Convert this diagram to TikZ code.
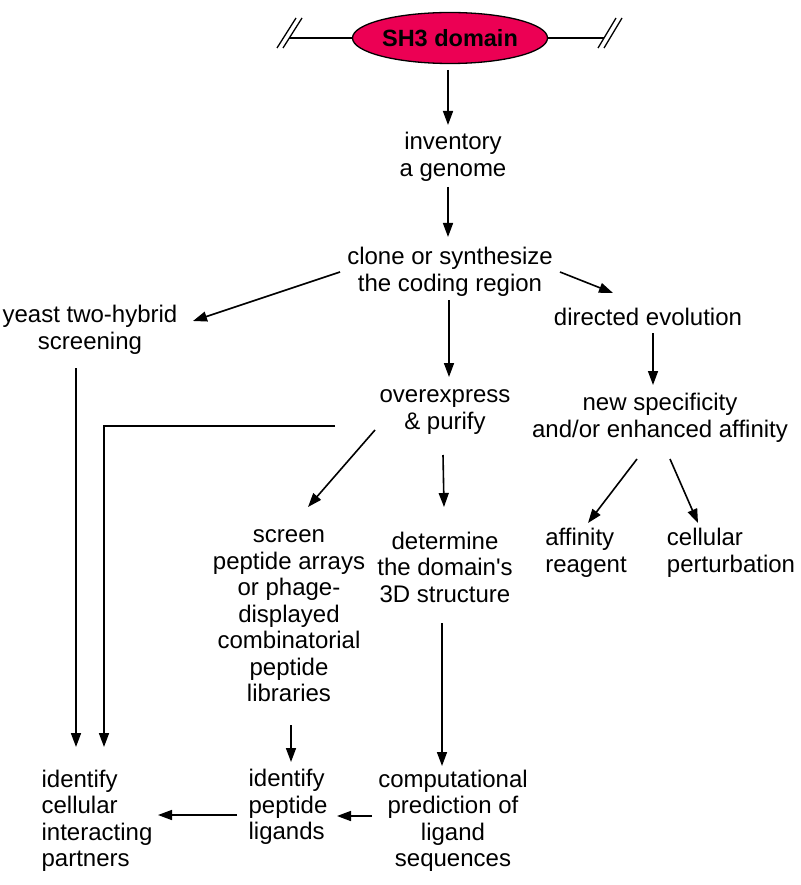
\documentclass[tikz,border=0pt]{standalone}
\usepackage{fontspec}
\setmainfont{Liberation Sans}
\usetikzlibrary{shapes.geometric, calc, arrows.meta}
\definecolor{domainred}{RGB}{236,0,84}

\begin{document}
\begin{tikzpicture}[x=1pt, y=-1pt,
    txt/.style={align=center, inner sep=0pt, font=\fontsize{24}{26.5}\selectfont},
    txtl/.style={txt, align=left},
    flow/.style={-{Triangle[length=14pt,width=10pt]}, line width=1.6pt},
    cut/.style={line width=1.3pt}]
  \useasboundingbox (0,0) rectangle (800,885);

  % domain on the chain
  \node[ellipse, draw, line width=1.3pt, fill=domainred, minimum width=195pt,
        minimum height=51pt, inner sep=0pt, font=\fontsize{23.5}{26}\selectfont\bfseries]
    (sh3) at (450,38) {SH3 domain};
  \coordinate (lcut) at (289,38);
  \coordinate (rcut) at (604,38);
  \draw[cut] (lcut) -- (sh3.west);
  \draw[cut] (sh3.east) -- (rcut);
  \draw[cut] (277,48) -- (296,18) (283,48) -- (302,18);
  \draw[cut] (598,48) -- (616,18) (604,48) -- (622,18);

  % steps
  \node[txt] (inv) at (453,157) {inventory\\a genome};
  \node[txt] (clone) at (450,272) {clone or synthesize\\the coding region};
  \node[txt] (yeast) at (90,330) {yeast two-hybrid\\screening};
  \node[txt] (dir) at (648,317) {directed evolution};
  \node[txt] (over) at (445,412) {overexpress\\\& purify};
  \node[txt] (spec) at (660,418) {new specificity\\and/or enhanced affinity};
  \node[txt] (screen) at (289,616) {screen\\peptide arrays\\or phage-\\displayed\\combinatorial\\peptide\\libraries};
  \node[txt] (det) at (445,567) {determine\\the domain\textquotesingle s\\3D structure};
  \node[txtl] (aff) at (586,553) {affinity\\reagent};
  \node[txtl] (cell) at (731,553) {cellular\\perturbation};
  \node[txtl] (idcell) at (97,821) {identify\\cellular\\interacting\\partners};
  \node[txtl] (idpep) at (288,807) {identify\\peptide\\ligands};
  \node[txt] (comp) at (453,821) {computational\\prediction of\\ligand\\sequences};

  % arrows
  \draw[flow] ($(sh3)+(-2,32)$) -- ($(inv)+(-5,-32)$);
  \draw[flow] ($(inv)+(-5,30)$) -- ($(clone)+(-2,-35)$);
  \draw[flow] ($(clone)+(-110,0)$) -- ($(yeast)+(103,-9)$);
  \draw[flow] ($(clone)+(110,0)$) -- ($(dir)+(-35,-24)$);
  \draw[flow] ($(clone)+(-1,28)$) -- ($(over)+(4,-35)$);
  \draw[flow] ($(dir)+(5,16)$) -- ($(spec)+(-7,-33)$);
  \draw[flow] ($(yeast)+(-14,38)$) -- ($(idcell)+(-21,-74)$);
  \draw[flow] ($(over)+(-110,14)$) -| ($(idcell)+(7,-74)$);
  \draw[flow] ($(over)+(-70,18)$) -- ($(screen)+(19,-109)$);
  \draw[flow] ($(over)+(-2,43)$) -- ($(det)+(-1,-60)$);
  \draw[flow] ($(spec)+(-23,41)$) -- ($(aff)+(2,-30)$);
  \draw[flow] ($(spec)+(10,41)$) -- ($(cell)+(-33,-30)$);
  \draw[flow] ($(screen)+(2,109)$) -- ($(idpep)+(3,-45)$);
  \draw[flow] ($(det)+(-3,56)$) -- ($(comp)+(-11,-55)$);
  \draw[flow] ($(comp)+(-81,-5)$) -- ($(idpep)+(49,9)$);
  \draw[flow] ($(idpep)+(-51,8)$) -- ($(idcell)+(61,-6)$);
\end{tikzpicture}
\end{document}
